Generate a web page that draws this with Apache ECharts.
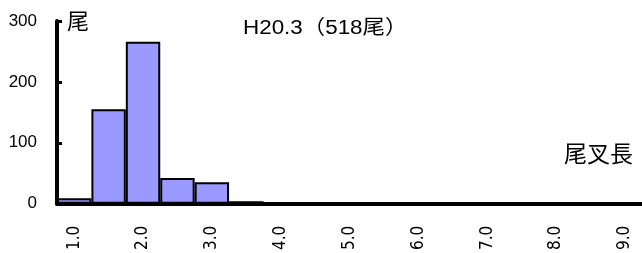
<!DOCTYPE html>
<html>
<head>
<meta charset="utf-8">
<script src="https://cdn.jsdelivr.net/npm/echarts@6/dist/echarts.min.js"></script>
<style>
  html, body { margin: 0; padding: 0; background: #fff; }
  #chart { width: 642px; height: 253px; }
</style>
</head>
<body>
<div id="chart"></div>
<script>
// 尾叉長の階級 (cm)
var categories = ['1.0', '1.5', '2.0', '2.5', '3.0', '3.5', '4.0', '4.5', '5.0',
                  '5.5', '6.0', '6.5', '7.0', '7.5', '8.0', '8.5', '9.0'];
var counts = [9, 155, 266, 42, 35, 4, 0, 0, 0, 0, 0, 0, 0, 0, 0, 0, 0];
var yTicks = [0, 100, 200, 300];
var titleText = 'H20.3（518尾）';

var font = '"Liberation Sans", "Noto Sans CJK JP", sans-serif';
var narrow = '"Liberation Sans Narrow", "DejaVu Sans Condensed", "Liberation Sans", sans-serif';

var chart = echarts.init(document.getElementById('chart'));
chart.setOption({
  animation: false,
  grid: { left: 57, right: 0, top: 21, bottom: 48 },
  xAxis: {
    type: 'category',
    data: categories,
    boundaryGap: true,
    axisLine: { lineStyle: { color: '#000', width: 4 } },
    axisTick: { inside: true, length: 5, interval: 0, lineStyle: { color: '#000', width: 3 } },
    axisLabel: {
      interval: 1,
      rotate: 90,
      margin: 22,
      fontSize: 17,
      color: '#000',
      fontFamily: narrow
    }
  },
  yAxis: {
    type: 'value',
    min: yTicks[0],
    max: yTicks[yTicks.length - 1],
    interval: 100,
    splitLine: { show: false },
    axisLine: { show: true, lineStyle: { color: '#000', width: 4 } },
    axisTick: { show: true, inside: true, length: 5, lineStyle: { color: '#000', width: 3 } },
    axisLabel: { fontSize: 17, color: '#000', margin: 20, fontFamily: font }
  },
  graphic: [
    { type: 'text', x: 243, y: 18, scaleX: 1.12, style: { text: titleText, fontSize: 20, fill: '#000', fontFamily: font } },
    { type: 'text', left: 67, top: 12, style: { text: '尾', fontSize: 22, fill: '#000', fontFamily: font } },
    { type: 'text', left: 564, top: 144, style: { text: '尾叉長', fontSize: 23, fill: '#000', fontFamily: font } }
  ],
  series: [{
    type: 'bar',
    data: counts,
    barCategoryGap: '0%',
    itemStyle: { color: '#9999ff', borderColor: '#000', borderWidth: 2 }
  }]
});
</script>
</body>
</html>
